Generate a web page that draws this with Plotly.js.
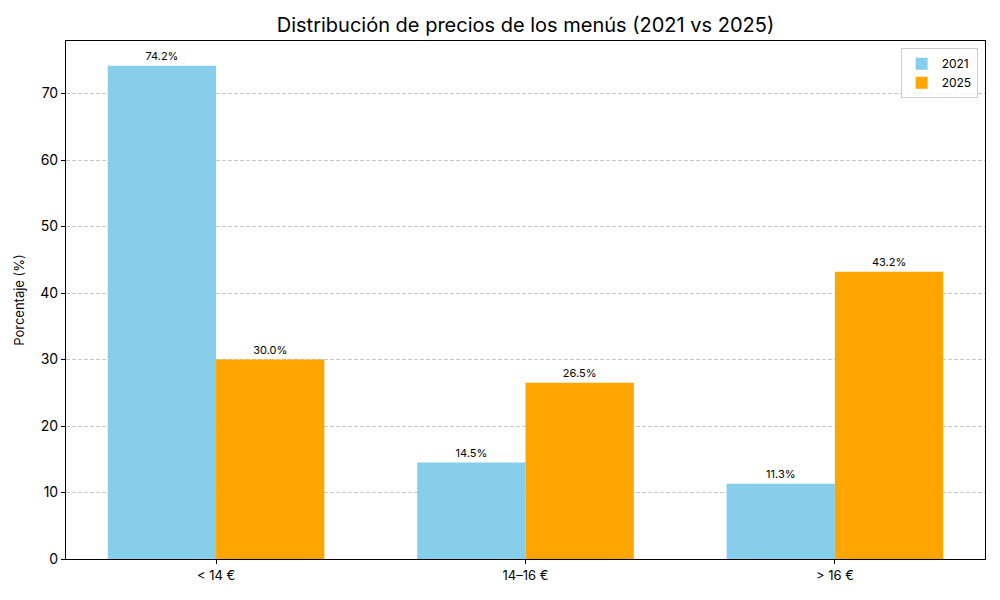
<!DOCTYPE html>
<html>
<head>
<meta charset="utf-8">
<script src="https://cdn.plot.ly/plotly-3.0.1.min.js"></script>
<style>html,body{margin:0;padding:0;background:#fff;}#chart{width:1000px;height:600px;}</style>
</head>
<body>
<div id="chart"></div>
<script>
const categories = ["< 14 €", "14–16 €", "> 16 €"];
const years = ["2021", "2025"];
const values2021 = [74.2, 14.5, 11.3];
const values2025 = [30.0, 26.5, 43.2];
const yTicks = [0, 10, 20, 30, 40, 50, 60, 70];

const FONT = "Inter, 'DejaVu Sans', sans-serif";
const colors = ["#87CEEB", "#FFA500"];
const series = [values2021, values2025];

const xIdx = categories.map((c, i) => i);
const traces = series.map((vals, k) => ({
  type: "bar",
  name: years[k],
  x: xIdx,
  y: vals,
  marker: {color: colors[k], line: {width: 0}},
  text: vals.map(v => v.toFixed(1) + "%"),
  textposition: "outside",
  textfont: {family: FONT, size: 11, color: "#000"},
  cliponaxis: false,
  hoverinfo: "skip"
}));

const maxVal = Math.max(...values2021, ...values2025);

const layout = {
  width: 1000, height: 600,
  margin: {l: 66, r: 15, t: 41, b: 41},
  paper_bgcolor: "#fff", plot_bgcolor: "#fff",
  font: {family: FONT, color: "#000"},
  title: {text: "Distribución de precios de los menús (2021 vs 2025)", font: {family: FONT, size: 20, color: "#000"}, x: 0.5255, xanchor: "center", y: 0.958, yanchor: "middle"},
  barmode: "group",
  bargap: 0.3,
  bargroupgap: 0,
  showlegend: true,
  legend: {x: 0.992, xanchor: "right", y: 0.986, yanchor: "top", bgcolor: "rgba(255,255,255,0.8)", bordercolor: "#cccccc", borderwidth: 1, font: {family: FONT, size: 12, color: "#000"}, itemwidth: 30, tracegroupgap: 4},
  xaxis: {
    range: [-0.485, 2.485],
    tickvals: xIdx, ticktext: categories,
    ticks: "outside", ticklen: 4, tickcolor: "#000",
    showline: true, linecolor: "#000", linewidth: 1, mirror: true,
    showgrid: false, zeroline: false,
    tickfont: {family: FONT, size: 13, color: "#000"}
  },
  yaxis: {
    range: [0, maxVal * 1.05],
    tickvals: yTicks,
    ticks: "outside", ticklen: 4, tickcolor: "#000",
    showline: true, linecolor: "#000", linewidth: 1, mirror: true,
    showgrid: true, gridcolor: "#c8c8c8", griddash: "4px,2px", gridwidth: 1,
    zeroline: false,
    tickfont: {family: FONT, size: 14, color: "#000"},
    title: {text: "Porcentaje (%)", font: {family: FONT, size: 13, color: "#000"}, standoff: 12}
  }
};

Plotly.newPlot("chart", traces, layout, {displayModeBar: false, staticPlot: true});
</script>
</body>
</html>
